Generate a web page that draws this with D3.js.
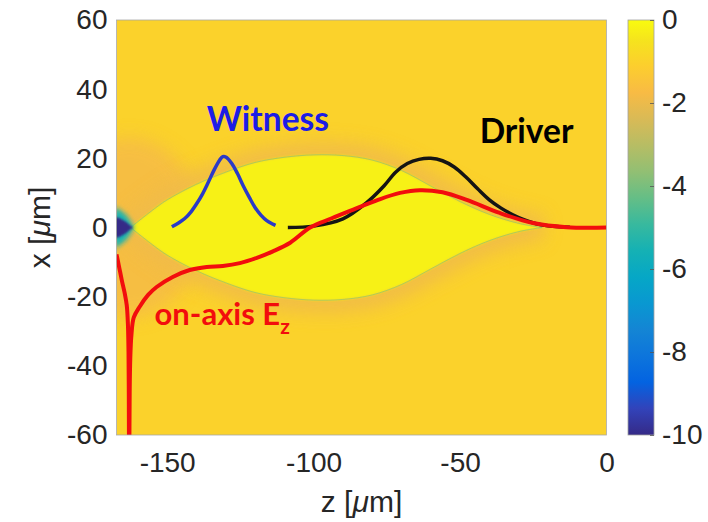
<!DOCTYPE html>
<html lang="en">
<head>
<meta charset="utf-8">
<title>Plasma wake</title>
<script src="https://d3js.org/d3.v7.min.js"></script>
<style>
  body { margin: 0; background: #fff; }
  svg text { font-family: "Liberation Sans", Arial, Helvetica, sans-serif; fill: #262626; }
  .lbl { font-family: Lato, "Open Sans", sans-serif; font-weight: bold; }
</style>
</head>
<body>
<script>
// axis ticks
const zTicks = [-150, -100, -50, 0]
const xTicks = [-60, -40, -20, 0, 20, 40, 60]
const cTicks = [0, -2, -4, -6, -8, -10]

// bubble half width [um] along z [um]
const bubbleZ = [-162.5, -155, -150, -140, -130, -120, -110, -100, -90, -80, -70, -60, -50, -40, -30, -22]
const bubbleR = [0, 5, 8, 12.5, 16, 18.8, 20.3, 21, 20.8, 19.5, 16.5, 12, 7.5, 3.8, 1.2, 0]

// density spike at the back of the bubble
const spotZ = [-168, -166, -164, -162.5, -161.5]
const spotCore = [3.2, 2.6, 1.6, 0.5, 0]
const spotFringe = [6, 5, 3.6, 1.8, 0.3]

// witness bunch profile
const witnessZ = [-148.4, -146, -144, -142, -140, -138, -136, -134, -132, -131, -130, -128, -126, -124, -122, -120, -118, -116, -114, -113]
const witnessX = [0.2, 1.4, 2.6, 4.4, 6.8, 9.6, 13, 16.6, 19.6, 20.5, 20.4, 18.6, 15.6, 12, 8.8, 5.8, 3.6, 2, 1, 0.6]

// driver bunch profile
const driverZ = [-108.8, -100, -90, -82, -76, -72, -68, -64, -60, -56, -52, -48, -44, -40, -36, -32, -28, -24, -20, -16, -12.5]
const driverX = [0, 0.4, 2.5, 7.1, 12, 16, 18.5, 19.7, 20, 19.3, 17.5, 14.6, 11.2, 8, 5.6, 3.7, 2.2, 1.1, 0.5, 0.2, 0.1]

// on-axis Ez (arbitrary units, drawn on the x axis)
const ezZ = [-167.3, -166.5, -165.5, -164.5, -163.8, -163.4, -163.2, -163.1, -163.05, -163.0,
    -162.9, -162.8, -162.6, -162.2, -161.4, -159.4, -156.5, -153.6, -148.1, -142.3, -136.5, -131,
    -125.2, -119.4, -113.9, -108, -101.2, -94, -87.6, -78, -70.5, -63.7, -56, -47.7, -36.4, -25.1, -13.6, 0]
const ezX = [-7.8, -11, -15.2, -19, -22.5, -28, -36, -48, -62, -80,
    -62, -48, -38, -31, -26, -22.9, -19.5, -17.2, -14.3, -12.3, -11.4, -11.1,
    -10.3, -8.8, -6.9, -4.4, 0, 2.6, 4.8, 8.0, 10.0, 10.8, 10.2, 8.0, 4.2, 1.3, 0.1, 0]

// parula colour map
const parulaIdx = [0, 4, 8, 12, 16, 20, 24, 28, 32, 36, 40, 44, 48, 52, 56, 60, 63]
const parulaHex = ['#352a87', '#3243ba', '#0363e1', '#0d75dc', '#1485d4', '#0998d1', '#06a7c6', '#15b1b4',
    '#38b99e', '#65be86', '#92bf73', '#b7bd64', '#d9ba56', '#f8bb44', '#fcce2e', '#f5e41d', '#f9fb0e']

const W = 708, H = 522
const m = { left: 116.5, right: 606.5, top: 20, bottom: 435 }
const cb = { left: 628, right: 654 }

const svg = d3.select('body').append('svg').attr('width', W).attr('height', H)

const zScale = d3.scaleLinear().domain([-167.3, 0]).range([m.left, m.right])
const xScale = d3.scaleLinear().domain([-60, 60]).range([m.bottom, m.top])
const cScale = d3.scaleLinear().domain([-10, 0]).range([m.bottom, m.top])
const parula = d3.scaleLinear()
    .domain(parulaIdx.map(i => -10 + 10 * i / 63))
    .range(parulaHex)
    .interpolate(d3.interpolateRgb)

const defs = svg.append('defs')
defs.append('clipPath').attr('id', 'plot-clip')
    .append('rect')
    .attr('x', m.left).attr('y', m.top)
    .attr('width', m.right - m.left).attr('height', m.bottom - m.top)

function blur(id, s) {
    defs.append('filter').attr('id', id)
        .attr('x', '-50%').attr('y', '-50%').attr('width', '200%').attr('height', '200%')
        .append('feGaussianBlur').attr('stdDeviation', s)
}
blur('blur-big', 9)
blur('blur-mid', 2.5)
blur('blur-small', 0.8)

const grad = defs.append('linearGradient').attr('id', 'cbar')
    .attr('x1', 0).attr('y1', 1).attr('x2', 0).attr('y2', 0)
parulaIdx.forEach((i, k) => {
    grad.append('stop').attr('offset', i / 63).attr('stop-color', parulaHex[k])
})

// density map
const g = svg.append('g').attr('clip-path', 'url(#plot-clip)')

g.append('rect')
    .attr('x', m.left).attr('y', m.top)
    .attr('width', m.right - m.left).attr('height', m.bottom - m.top)
    .attr('fill', parula(-1.0))

const bubble = bubbleZ.map((z, i) => ({ z: z, r: bubbleR[i] }))
const area = d3.area()
    .x(d => zScale(d.z))
    .y0(d => xScale(-d.r))
    .y1(d => xScale(d.r))
    .curve(d3.curveCatmullRom)

// glow behind the back of the bubble
g.append('ellipse')
    .attr('cx', zScale(-163)).attr('cy', xScale(0))
    .attr('rx', zScale(-138) - zScale(-163)).attr('ry', xScale(0) - xScale(26))
    .attr('fill', parula(-1.8)).attr('opacity', 0.85)
    .attr('filter', 'url(#blur-big)')

g.append('path')
    .attr('d', area(bubble))
    .attr('fill', 'none')
    .attr('stroke', parula(-1.9))
    .attr('stroke-width', 26)
    .attr('opacity', 0.9)
    .attr('filter', 'url(#blur-big)')

g.append('path')
    .attr('d', area(bubble))
    .attr('fill', parula(-0.2))
    .attr('filter', 'url(#blur-small)')

g.append('path')
    .attr('d', area(bubble))
    .attr('fill', 'none')
    .attr('stroke', parula(-4.2))
    .attr('stroke-width', 1)
    .attr('opacity', 0.5)

const spotArea = d3.area()
    .x(d => zScale(d.z))
    .y0(d => xScale(-d.r))
    .y1(d => xScale(d.r))
    .curve(d3.curveLinear)

g.append('path')
    .attr('d', spotArea(spotZ.map((z, i) => ({ z: z, r: spotFringe[i] }))))
    .attr('fill', parula(-5.5))
    .attr('filter', 'url(#blur-mid)')

g.append('path')
    .attr('d', spotArea(spotZ.map((z, i) => ({ z: z, r: spotCore[i] }))))
    .attr('fill', parula(-10))
    .attr('filter', 'url(#blur-small)')

// lines
const line = d3.line()
    .x(d => zScale(d[0]))
    .y(d => xScale(d[1]))
    .curve(d3.curveCatmullRom)

g.append('path')
    .attr('d', line(witnessZ.map((z, i) => [z, witnessX[i]])))
    .attr('fill', 'none').attr('stroke', '#2a3ac8').attr('stroke-width', 3.5)

g.append('path')
    .attr('d', line(driverZ.map((z, i) => [z, driverX[i]])))
    .attr('fill', 'none').attr('stroke', '#141414').attr('stroke-width', 3.5)

g.append('path')
    .attr('d', line(ezZ.map((z, i) => [z, ezX[i]])))
    .attr('fill', 'none').attr('stroke', '#f20d0d').attr('stroke-width', 4)
    .attr('stroke-linejoin', 'round')

svg.append('rect')
    .attr('x', m.left).attr('y', m.top)
    .attr('width', m.right - m.left).attr('height', m.bottom - m.top)
    .attr('fill', 'none').attr('stroke', '#a8a8a8').attr('stroke-width', 0.8)

// annotations
svg.append('text').attr('class', 'lbl')
    .attr('x', zScale(-115.6)).attr('y', xScale(27.9))
    .attr('text-anchor', 'middle')
    .style('font-size', '33.5px').style('fill', '#1c1ce6')
    .text('Witness')

svg.append('text').attr('class', 'lbl')
    .attr('x', zScale(-27.3)).attr('y', xScale(24.3))
    .attr('text-anchor', 'middle')
    .style('font-size', '33.5px').style('fill', '#000')
    .text('Driver')

const ez = svg.append('text').attr('class', 'lbl')
    .attr('x', zScale(-154.3)).attr('y', xScale(-28.2))
    .style('font-size', '31px').style('fill', '#f20d0d')
ez.append('tspan').style('fill', '#f20d0d').text('on-axis E')
ez.append('tspan').attr('dy', 9).style('font-size', '21px').style('fill', '#f20d0d').text('z')

// axes
const fmt = d => String(d)
const xAxis = svg.append('g')
    .attr('transform', `translate(0,${m.bottom})`)
    .call(d3.axisBottom(zScale).tickValues(zTicks).tickFormat(fmt).tickSize(0).tickPadding(17))
const yAxis = svg.append('g')
    .attr('transform', `translate(${m.left},0)`)
    .call(d3.axisLeft(xScale).tickValues(xTicks).tickFormat(fmt).tickSize(0).tickPadding(9))
for (const a of [xAxis, yAxis]) {
    a.select('.domain').remove()
    a.selectAll('text').style('font-size', '28px').style('fill', '#262626')
        .style('font-family', '"Liberation Sans", Arial, sans-serif')
}

const zl = svg.append('text')
    .attr('x', (m.left + m.right) / 2).attr('y', 512)
    .attr('text-anchor', 'middle').style('font-size', '30px')
zl.append('tspan').text('z [')
zl.append('tspan').style('font-style', 'italic').text('μ')
zl.append('tspan').text('m]')

const yl = svg.append('text')
    .attr('transform', `translate(50,${(m.top + m.bottom) / 2}) rotate(-90)`)
    .attr('text-anchor', 'middle').style('font-size', '30px')
yl.append('tspan').text('x [')
yl.append('tspan').style('font-style', 'italic').text('μ')
yl.append('tspan').text('m]')

// colour bar
svg.append('rect')
    .attr('x', cb.left).attr('y', m.top)
    .attr('width', cb.right - cb.left).attr('height', m.bottom - m.top)
    .attr('fill', 'url(#cbar)')
    .attr('stroke', '#a0a0a0').attr('stroke-width', 0.8)

const cAxis = svg.append('g')
    .attr('transform', `translate(${cb.right},0)`)
    .call(d3.axisRight(cScale).tickValues(cTicks).tickFormat(fmt).tickSize(-4).tickPadding(8))
cAxis.select('.domain').remove()
cAxis.selectAll('line').attr('stroke', '#555').attr('stroke-width', 0.8)
cAxis.selectAll('text').style('font-size', '28px').style('fill', '#262626')
    .style('font-family', '"Liberation Sans", Arial, sans-serif')
</script>
</body>
</html>
